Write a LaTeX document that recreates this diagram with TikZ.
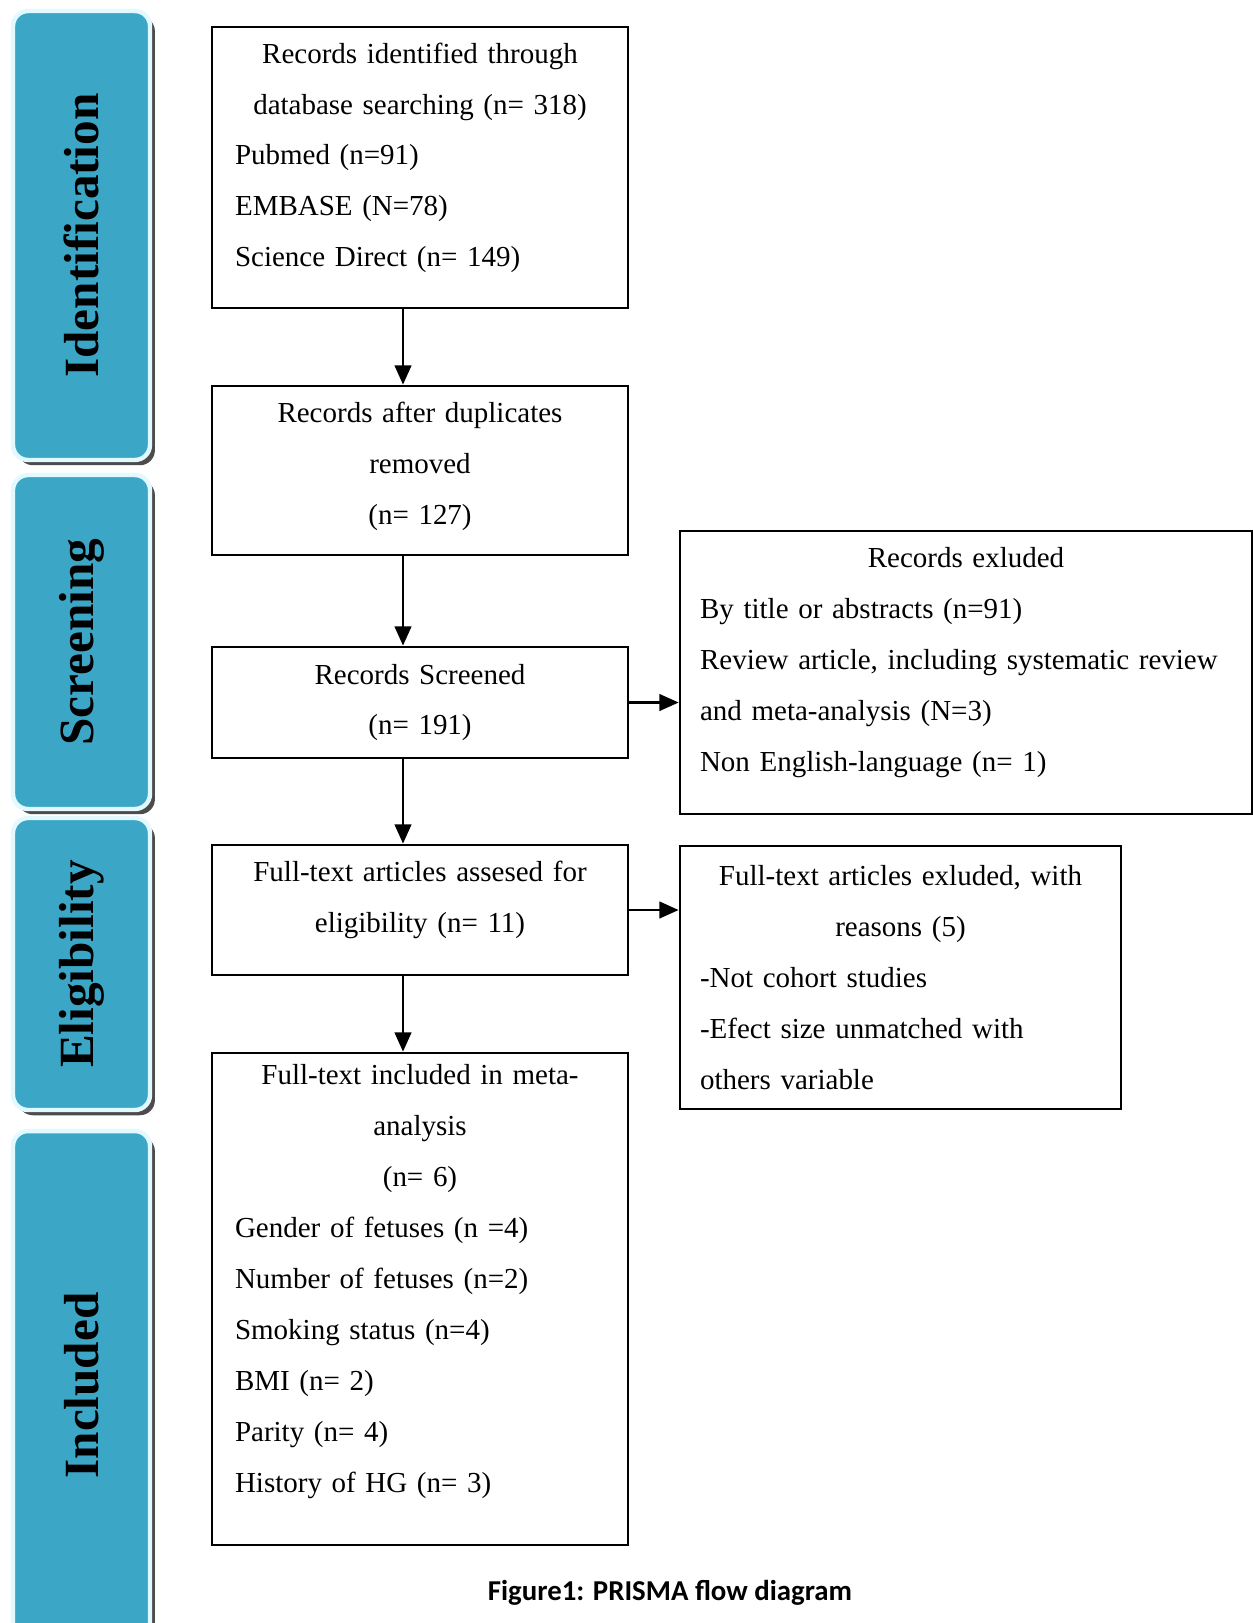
\documentclass[tikz,border=0pt]{standalone}
\usepackage{fontspec}
\setmainfont{Liberation Serif}
\newfontfamily\capfont{Carlito}
\usepackage{graphicx}
\usepackage{xcolor}
\usetikzlibrary{arrows.meta,shadows}

\definecolor{barteal}{RGB}{60,166,199}
\definecolor{barrim}{RGB}{226,249,255}

% extra room under the last line of a box
\newcommand{\padbelow}[1]{\par\nointerlineskip\vspace{#1}\hbox{}}

\begin{document}
\begin{tikzpicture}[x=0.02cm, y=-0.02cm, >={Triangle[length=11pt,width=9.5pt]},
    box/.style={draw, line width=1.6pt, align=left, inner xsep=0.46cm, inner ysep=0pt,
        text width=7.4cm, font=\fontsize{16.5}{29}\selectfont},
    sidebox/.style={box, inner xsep=0.4cm},
    bar/.style={fill=barteal, draw=barrim, line width=2.5pt, rounded corners=0.3cm,
        minimum width=2.74cm, inner sep=0pt, font=\fontsize{28}{30}\selectfont\bfseries,
        drop shadow={shadow xshift=2.8pt, shadow yshift=-3pt, fill=black!70, opacity=1}},
    flowline/.style={->, line width=1.3pt}]

    % Page
    \fill[white] (0,0) rectangle (1253,1623);
    \useasboundingbox (0,0) rectangle (1253,1623);

    % Stage bars
    \node[bar, minimum height=8.98cm]  (idbar) at (81.5,235.5)  {\rotatebox{90}{Identification}};
    \node[bar, minimum height=6.68cm]  (scbar) at (81.5,642)    {\rotatebox{90}{Screening}};
    \node[bar, minimum height=5.84cm]  (elbar) at (81.5,964)    {\rotatebox{90}{Eligibility}};
    \node[bar, minimum height=10.18cm] (inbar) at (81.5,1385.5) {\rotatebox{90}{Included}};

    % Main column
    \node[box, minimum height=5.62cm] (records) at (420,167.5) {%
        {\centering Records identified through\\ database searching (n= 318)\par}
        Pubmed (n=91)\\ EMBASE (N=78)\\ Science Direct (n= 149)\padbelow{11pt}};
    \node[box, minimum height=3.38cm] (dedup) at (420,470.5) {%
        {\centering Records after duplicates\\ removed\\ (n= 127)\par}\padbelow{5pt}};
    \node[box, minimum height=2.22cm] (screened) at (420,702.5) {%
        {\centering Records Screened\\ (n= 191)\par}};
    \node[box, minimum height=2.6cm] (fulltext) at (420,910) {%
        {\centering Full-text articles assesed for\\ eligibility (n= 11)\par}\padbelow{11pt}};
    \node[box, minimum height=9.84cm] (included) at (420,1299) {%
        {\centering Full-text included in meta-\\ analysis\\ (n= 6)\par}
        Gender of fetuses (n =4)\\ Number of fetuses (n=2)\\ Smoking status (n=4)\\
        BMI (n= 2)\\ Parity (n= 4)\\ History of HG (n= 3)\padbelow{20pt}};

    % Excluded boxes
    \node[sidebox, text width=10.64cm, minimum height=5.66cm] (excl) at (966,672.5) {%
        {\centering Records exluded\par}
        By title or abstracts (n=91)\\ Review article, including systematic review\\
        and meta-analysis (N=3)\\ Non English-language (n= 1)\padbelow{11pt}};
    \node[sidebox, text width=8.02cm, minimum height=5.26cm] (exclft) at (900.5,977.5) {%
        {\centering Full-text articles exluded, with\\ reasons (5)\par}
        -Not cohort studies\\ -Efect size unmatched with\\ others variable};

    % Arrows
    \coordinate (flow) at (403,0);
    \draw[flowline] (records.south -| flow) -- (dedup.north -| flow);
    \draw[flowline] (dedup.south -| flow) -- (screened.north -| flow);
    \draw[flowline] (screened.south -| flow) -- (fulltext.north -| flow);
    \draw[flowline] (fulltext.south -| flow) -- (included.north -| flow);
    \draw[flowline] (screened.east) -- (screened.east -| excl.west);
    \draw[flowline] (fulltext.east) -- (fulltext.east -| exclft.west);

    % Caption
    \node[anchor=base, font=\capfont\bfseries\fontsize{16.4}{20}\selectfont] (caption) at (670,1600)
        {Figure1: PRISMA flow diagram};

\end{tikzpicture}
\end{document}
